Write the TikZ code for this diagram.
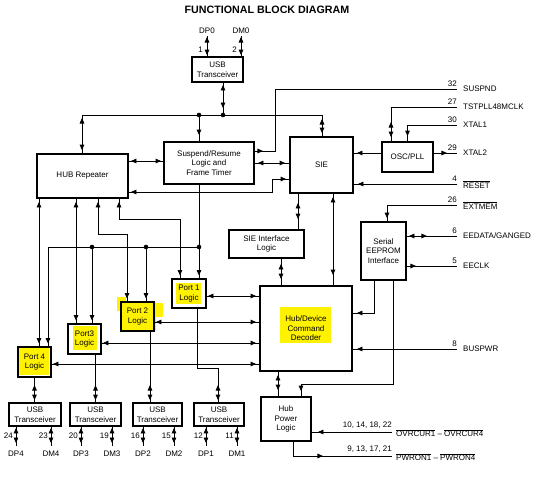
\documentclass[tikz,border=0pt]{standalone}
\usepackage{fontspec}
\setmainfont{Liberation Sans}
\usetikzlibrary{arrows.meta,decorations.markings,calc}
\begin{document}
\begin{tikzpicture}[x=1pt,y=-1pt,
  >={Triangle[length=5.5pt,width=4.6pt]},
  every node/.style={font=\fontsize{8}{9.5}\selectfont, inner sep=0pt, align=center},
  blk/.style={draw, line width=1.9pt},
  ln/.style={line width=0.9pt},
  jdot/.style={circle, fill, minimum size=4.6pt, inner sep=0pt},
  fwd/.style={postaction={decorate,decoration={markings,mark=at position #1 with {\arrow{>}}}}},
  bwd/.style={postaction={decorate,decoration={markings,mark=at position #1 with {\arrowreversed{>}}}}},
  pinno/.style={anchor=south east},
  pinname/.style={anchor=west},
]
\useasboundingbox (0,0) rectangle (542,479);
\fill[white] (0,0) rectangle (542,479);

% title
\node[font=\bfseries\fontsize{10.7}{12}\selectfont] (title) at (267,10) {FUNCTIONAL BLOCK DIAGRAM};

% highlights
\fill[yellow] (176,283) rectangle (201,304);
\fill[yellow] (121,302) rectangle (156,331);
\fill[yellow] (117,297) rectangle (126,311);
\fill[yellow] (155,303) rectangle (163,317);
\fill[yellow] (73,326) rectangle (97,350);
\fill[yellow] (18,347) rectangle (49,375);
\fill[yellow] (280,307) rectangle (331,343);

% blocks
\node[blk,minimum width=51pt,minimum height=25pt] (usb0) at (217.5,69.5) {USB\\Transceiver};
\node[blk,minimum width=91pt,minimum height=44pt] (hub) at (82.5,176) {HUB Repeater};
\node[blk,minimum width=90pt,minimum height=42pt] (susp) at (209,163) {Suspend/Resume\\Logic and\\Frame Timer};
\node[blk,minimum width=63pt,minimum height=56pt] (sie) at (321.5,165) {SIE};
\node[blk,minimum width=51pt,minimum height=30pt] (osc) at (407.5,157) {OSC/PLL};
\node[blk,minimum width=75pt,minimum height=28pt] (siei) at (266.5,244) {SIE Interface\\Logic};
\node[blk,minimum width=45pt,minimum height=58pt] (eeprom) at (383.5,251) {Serial\\EEPROM\\Interface};
\node[blk,minimum width=92pt,minimum height=85pt] (hubdev) at (306,328.5) {Hub/Device\\Command\\Decoder};
\node[blk,minimum width=50pt,minimum height=44pt] (hubpwr) at (286,419) {Hub\\Power\\Logic};
\node[blk,minimum width=34pt,minimum height=29pt] (p1) at (189,293.5) {Port 1\\Logic};
\node[blk,minimum width=33pt,minimum height=29pt] (p2) at (137.5,316.5) {Port 2\\Logic};
\node[blk,minimum width=33pt,minimum height=30pt] (p3) at (84.5,339) {Port3\\Logic};
\node[blk,minimum width=33pt,minimum height=30pt] (p4) at (34.5,362) {Port 4\\Logic};
\node[blk,minimum width=52pt,minimum height=23pt] (t4) at (35,414.5) {USB\\Transceiver};
\node[blk,minimum width=51pt,minimum height=23pt] (t3) at (95.5,414.5) {USB\\Transceiver};
\node[blk,minimum width=49pt,minimum height=23pt] (t2) at (157.5,414.5) {USB\\Transceiver};
\node[blk,minimum width=50pt,minimum height=23pt] (t1) at (219,414.5) {USB\\Transceiver};

% coordinates
\coordinate (dp0) at (207,36); \coordinate (dm0) at (241,36);
\coordinate (bL) at (82,115); \coordinate (bR) at (322,115);
\coordinate (bS) at (199,115); \coordinate (bU) at (223,115);
\coordinate (pSUSP) at (457,89); \coordinate (pTST) at (457,107);
\coordinate (pX1) at (457,125); \coordinate (pX2) at (457,153);
\coordinate (pRST) at (457,184); \coordinate (pEXT) at (457,205);
\coordinate (pEED) at (457,236); \coordinate (pECK) at (457,266);
\coordinate (pBUS) at (457,349);
\coordinate (pOVR) at (392,432); \coordinate (pPWR) at (392,456);
\coordinate (hs) at (0,161); \coordinate (ss) at (0,163); \coordinate (su) at (0,151);
\coordinate (hsA) at (0,192); \coordinate (kHS) at (272,179);
\coordinate (kT) at (391,0); \coordinate (kE) at (387,0);
\coordinate (kSD) at (374,313); \coordinate (kSP) at (393,384); \coordinate (kSP2) at (301,384);
\coordinate (x298) at (298,0); \coordinate (x333) at (333,0);
\coordinate (x281) at (281,0); \coordinate (x278) at (278,0); \coordinate (x293) at (293,0);
\coordinate (x39) at (39,0); \coordinate (x76) at (76,0); \coordinate (x98) at (98,0);
\coordinate (x119) at (119,0); \coordinate (x48) at (48,0);
\coordinate (k127) at (127,234); \coordinate (k180) at (180,219);
\coordinate (kS) at (199,247); \coordinate (k92) at (92,247); \coordinate (k146) at (146,247);
\coordinate (x150) at (150,0); \coordinate (x197) at (197,0); \coordinate (k218) at (218,368);

% top transceiver pins
\draw[ln,bwd=1pt,fwd=-1pt] (usb0.north -| dp0) -- (dp0);
\draw[ln,bwd=1pt,fwd=-1pt] (usb0.north -| dm0) -- (dm0);
\node[anchor=south] (ldp0) at ($(dp0)+(0,-2.5)$) {DP0};
\node[anchor=south] (ldm0) at ($(dm0)+(0,-2.5)$) {DM0};
\node[anchor=east] (n1) at (203,50) {1};
\node[anchor=east] (n2) at (237,50) {2};

% top bus
\draw[ln] (bL) -- (bR);
\draw[ln,bwd=2pt,fwd=-7pt] (usb0.south -| bU) -- (bU);
\draw[ln,bwd=3pt,fwd=-3pt] (bL) -- (hub.north -| bL);
\draw[ln,bwd=4pt,fwd=-3pt] (bR) -- (sie.north -| bR);
\draw[ln,fwd=-6pt] (bS) -- (susp.north -| bS);
\node[jdot] (dS) at (bS) {};
\node[jdot] (dU) at (bU) {};

% hub / suspend / sie
\draw[ln,bwd=2pt,fwd=-2pt] (hub.east |- hs) -- (susp.west |- hs);
\draw[ln,bwd=3pt,fwd=-4pt] (susp.east |- ss) -- (sie.west |- ss);
\draw[ln,fwd=8pt] (susp.east |- su) -- ++(20,0) |- (pSUSP);
\draw[ln,bwd=2pt,fwd=-3pt] (hub.east |- hsA) -| (kHS) -- (sie.west |- kHS);

% osc / sie / right pins
\draw[ln,fwd=-3pt] (osc.west |- pX2) -- (sie.east |- pX2);
\draw[ln,fwd=13pt] (osc.east |- pX2) -- (pX2);
\draw[ln,bwd=81pt,fwd=-4pt] (pTST) -| (osc.north -| kT);
\draw[ln,fwd=-5pt] (pX1) -| (osc.north);
\draw[ln,fwd=-4pt] (pRST) -- (sie.east |- pRST);
\draw[ln,fwd=-3pt] (pEXT) -| (eeprom.north -| kE);
\draw[ln,bwd=2pt,fwd=20pt] (eeprom.east |- pEED) -- (pEED);
\draw[ln,fwd=9pt] (eeprom.east |- pECK) -- (pECK);
\draw[ln,fwd=-4pt] (pBUS) -- (hubdev.east |- pBUS);
\draw[ln,fwd=-4pt] (eeprom.south -| kSD) |- (hubdev.east |- kSD);
\draw[ln,fwd=-5pt] (eeprom.south -| kSP) |- (kSP2) -- (hubpwr.north -| kSP2);

% sie / sie interface / decoder / power
\draw[ln,bwd=9pt,fwd=-10pt] (sie.south -| x298) -- (siei.north -| x298);
\draw[ln,bwd=3pt,fwd=-10pt] (sie.south -| x333) -- (hubdev.north -| x333);
\draw[ln,bwd=5pt,fwd=-6pt] (siei.south -| x281) -- (hubdev.north -| x281);
\draw[ln,bwd=3pt,fwd=-6pt] (hubdev.south -| x278) -- (hubpwr.north -| x278);
\draw[ln,fwd=-6pt] (pOVR) -- (hubpwr.east |- pOVR);
\draw[ln,fwd=44pt] (hubpwr.south -| x293) |- (pPWR);

% right pin labels
\node[pinno] (nsusp) at ($(pSUSP)+(0,-2.5)$) {32};
\node[pinname] (lsusp) at ($(pSUSP)+(6,0)$) {SUSPND};
\node[pinno] (ntst) at ($(pTST)+(0,-2.5)$) {27};
\node[pinname] (ltst) at ($(pTST)+(6,0)$) {TSTPLL48MCLK};
\node[pinno] (nx1) at ($(pX1)+(0,-2.5)$) {30};
\node[pinname] (lx1) at ($(pX1)+(6,0)$) {XTAL1};
\node[pinno] (nx2) at ($(pX2)+(0,-2.5)$) {29};
\node[pinname] (lx2) at ($(pX2)+(6,0)$) {XTAL2};
\node[pinno] (nrst) at ($(pRST)+(0,-2.5)$) {4};
\node[pinname] (lrst) at ($(pRST)+(6,0.5)$) {$\overline{\hbox{RESET}}$};
\node[pinno] (next) at ($(pEXT)+(0,-2.5)$) {26};
\node[pinname] (lext) at ($(pEXT)+(6,0.5)$) {$\overline{\hbox{EXTMEM}}$};
\node[pinno] (need) at ($(pEED)+(0,-2.5)$) {6};
\node[pinname] (leed) at ($(pEED)+(6,0)$) {EEDATA/GANGED};
\node[pinno] (neck) at ($(pECK)+(0,-2.5)$) {5};
\node[pinname] (leck) at ($(pECK)+(6,0)$) {EECLK};
\node[pinno] (nbus) at ($(pBUS)+(0,-2.5)$) {8};
\node[pinname] (lbus) at ($(pBUS)+(6,0)$) {BUSPWR};
\node[pinno] (novr) at ($(pOVR)+(0,-3)$) {10, 14, 18, 22};
\node[pinname] (lovr) at ($(pOVR)+(4,1)$) {$\overline{\hbox{OVRCUR1}}$ -- $\overline{\hbox{OVRCUR4}}$};
\node[pinno] (npwr) at ($(pPWR)+(0,-3)$) {9, 13, 17, 21};
\node[pinname] (lpwr) at ($(pPWR)+(4,1)$) {$\overline{\hbox{PWRON1}}$ -- $\overline{\hbox{PWRON4}}$};

% ports <-> decoder
\foreach \p/\yy in {p1/296, p2/322, p3/343, p4/364} {
  \coordinate (\p-y) at (0,\yy);
  \draw[ln,bwd=1pt,fwd=-3pt] (\p.east |- \p-y) -- (hubdev.west |- \p-y);
}

% hub repeater <-> ports
\draw[ln,bwd=3pt,fwd=-2.5pt] (hub.south -| x39) -- (p4.north -| x39);
\draw[ln,bwd=3pt,fwd=-2.5pt] (hub.south -| x76) -- (p3.north -| x76);
\draw[ln,bwd=3pt,fwd=-2.5pt] (hub.south -| x98) |- (k127) -- (p2.north -| k127);
\draw[ln,bwd=3pt,fwd=-2.5pt] (hub.south -| x119) |- (k180) -- (p1.north -| k180);

% suspend -> ports
\draw[ln,fwd=-2.5pt] (susp.south -| kS) -- (p1.north -| kS);
\draw[ln,fwd=-2.5pt] (kS) -| (p4.north -| x48);
\draw[ln,fwd=-2.5pt] (k92) -- (p3.north -| k92);
\draw[ln,fwd=-2.5pt] (k146) -- (p2.north -| k146);
\node[jdot] (dkS) at (kS) {};
\node[jdot] (dk92) at (k92) {};
\node[jdot] (dk146) at (k146) {};

% ports <-> transceivers
\draw[ln,bwd=-17pt,fwd=-2pt] (p4.south) -- (p4.south |- t4.north);
\draw[ln,bwd=-17pt,fwd=-2pt] (p3.south -| t3.north) -- (t3.north);
\draw[ln,bwd=-17pt,fwd=-2pt] (p2.south -| x150) -- (t2.north -| x150);
\draw[ln,bwd=-17pt,fwd=-2pt] (p1.south -| x197) |- (k218) -- (t1.north -| k218);

% bottom pins
\foreach \t/\a/\b/\na/\nb/\k in {t4/16/51/24/23/4, t3/81/112/20/19/3, t2/143/174/16/15/2, t1/206/237/12/11/1} {
  \coordinate (\t-a) at (\a,446);
  \coordinate (\t-b) at (\b,446);
  \draw[ln,bwd=1pt,fwd=-3pt] (\t.south -| \t-a) -- (\t-a);
  \draw[ln,bwd=1pt,fwd=-3pt] (\t.south -| \t-b) -- (\t-b);
  \node[anchor=east] (\t-na) at ($(\t-a)+(-3,-10)$) {\na};
  \node[anchor=east] (\t-nb) at ($(\t-b)+(-3,-10)$) {\nb};
  \node[anchor=north] (\t-la) at ($(\t-a)+(0,5)$) {DP\k};
  \node[anchor=north] (\t-lb) at ($(\t-b)+(0,5)$) {DM\k};
}
\end{tikzpicture}
\end{document}
